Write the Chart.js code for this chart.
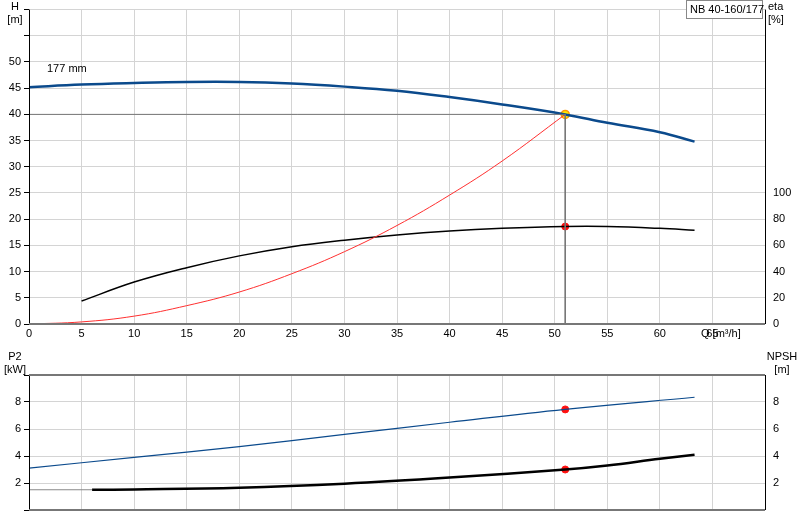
<!DOCTYPE html>
<html><head><meta charset="utf-8">
<script src="https://cdn.jsdelivr.net/npm/chart.js@4"></script>
<style>body{margin:0;background:#fff}#a,#b{position:absolute;left:0}#a{top:0}#b{top:340px}</style>
</head><body>
<div id="a" style="width:800px;height:340px"><canvas id="c1"></canvas></div>
<div id="b" style="width:800px;height:180px"><canvas id="c2"></canvas></div>
<script>
const qH=[0,5,10,15,20,25,30,35,40,45,51,55,60,63.3];
const headVals=[45.2,45.7,46.0,46.2,46.2,45.9,45.3,44.5,43.3,41.9,40,38.4,36.6,34.8];
const qEta=[5,10,15,20,25,30,35,40,45,51,55,60,63.3];
const etaVals=[17.5,32,43,52,59,64,68,71,73,74.4,74.4,73,71.5];
const qSys=[0,5,10,15,20,25,30,35,40,45,51];
const sysVals=[0,0.4,1.5,3.5,6.1,9.6,13.8,18.8,24.6,31.1,40];
const qP2=[0,10,20,30,40,51,63.3];
const p2Vals=[3.1,3.9,4.7,5.6,6.5,7.45,8.35];
const qNpsh=[6,10,20,30,40,51,55,60,63.3];
const npshVals=[1.5,1.52,1.65,1.95,2.4,3.0,3.3,3.8,4.1];
const duty={q:51,h:40,eta:74.4,p2:7.45,npsh:3.0};
const pairs=(xs,ys)=>xs.map((x,i)=>({x,y:ys[i]}));
const F='"Liberation Sans", Arial, sans-serif';
Chart.defaults.font.family=F;Chart.defaults.font.size=11;Chart.defaults.color='#000';
const grid={color:'#d4d4d4',drawTicks:false};
function fit(w){return s=>{s.width=w;};}
const texts={id:'t',afterDraw(c,a,o){const x=c.ctx;x.save();x.font='11px '+F;x.fillStyle='#000';
 for(const t of o.items){x.textAlign=t.al||'center';x.fillText(t.s,t.x,t.y);}
 if(o.box){x.strokeStyle='#888';x.lineWidth=1;x.fillStyle='#fff';x.fillRect(686.5,0.5,76,18);x.strokeRect(686.5,0.5,76,18);x.fillStyle='#000';x.textAlign='left';x.fillText('NB 40-160/177',690,13);}
 const ca=c.chartArea;x.strokeStyle='#000';x.lineWidth=1;x.beginPath();x.moveTo(ca.left+0.5,ca.top);x.lineTo(ca.left+0.5,ca.bottom);x.moveTo(ca.right+0.5,ca.top);x.lineTo(ca.right+0.5,ca.bottom);x.stroke();
 x.strokeStyle='#777';x.lineWidth=2;x.beginPath();x.moveTo(ca.left,ca.bottom);x.lineTo(ca.right,ca.bottom);if(o.topLine){x.moveTo(ca.left,ca.top);x.lineTo(ca.right,ca.top);}x.stroke();
 x.restore();}};
const ln=(data,color,w,extra={})=>Object.assign({type:'line',data,borderColor:color,borderWidth:w,pointRadius:0,tension:0.4,fill:false},extra);
new Chart(document.getElementById('c1'),{type:'line',data:{datasets:[
 ln([{x:0,y:duty.h},{x:duty.q,y:duty.h}],'#777',1,{tension:0}),
 ln([{x:duty.q,y:duty.h},{x:duty.q,y:0}],'#777',1,{tension:0}),
 ln(pairs(qSys,sysVals),'#ff3030',1),
 ln(pairs(qEta,etaVals),'#000',1.5,{yAxisID:'y2'}),
 ln(pairs(qH,headVals),'#0b4a8c',2.5),
 {type:'scatter',yAxisID:'y2',data:[{x:duty.q,y:duty.eta}],pointRadius:3.5,backgroundColor:'#ff1010',borderColor:'#ff1010'},
 {type:'scatter',data:[{x:duty.q,y:duty.h}],pointRadius:4,backgroundColor:'#ffee00',borderColor:'#ff9900',borderWidth:1.5}
]},options:{animation:false,responsive:true,maintainAspectRatio:false,layout:{padding:{top:-10}},
 plugins:{legend:{display:false},tooltip:{enabled:false},t:{box:true,items:[{s:'H',x:15,y:10},{s:'[m]',x:15,y:23},{s:'eta',x:768,y:10,al:'left'},{s:'[%]',x:768,y:23,al:'left'},{s:'177 mm',x:47,y:72,al:'left'},{s:'Q [m³/h]',x:701,y:337,al:'left'}]}},
 scales:{x:{type:'linear',min:0,max:70,grid:grid,border:{display:false},afterFit:s=>{s.height=16;},ticks:{stepSize:5,padding:3,maxRotation:0,callback:v=>v<=65?v:''}},
 y:{min:0,max:60,grid:{color:'#d4d4d4',tickLength:5,tickColor:'#000'},border:{display:false},afterFit:fit(29),ticks:{stepSize:5,padding:3,callback:v=>v<=50?v:''}},
 y2:{position:'right',min:0,max:240,grid:{display:false,tickLength:5,tickColor:'#000'},border:{display:false},afterFit:fit(35),ticks:{stepSize:20,padding:3,callback:v=>v<=100?v:''}}}},
 plugins:[texts]});
new Chart(document.getElementById('c2'),{type:'line',data:{datasets:[
 ln([{x:0,y:1.5},{x:6,y:1.5}],'#888',1,{tension:0}),
 ln(pairs(qP2,p2Vals),'#0b4a8c',1.2),
 ln(pairs(qNpsh,npshVals),'#000',2.5),
 {type:'scatter',data:[{x:duty.q,y:duty.p2},{x:duty.q,y:duty.npsh}],pointRadius:3.5,backgroundColor:'#ff1010',borderColor:'#ff1010'}
]},options:{animation:false,responsive:true,maintainAspectRatio:false,layout:{padding:{top:35}},
 plugins:{legend:{display:false},tooltip:{enabled:false},t:{topLine:true,items:[{s:'P2',x:15,y:20},{s:'[kW]',x:15,y:33},{s:'NPSH',x:782,y:20},{s:'[m]',x:782,y:33}]}},
 scales:{x:{type:'linear',min:0,max:70,grid:grid,border:{display:false},ticks:{display:false,stepSize:5},afterFit:s=>{s.height=10;}},
 y:{min:0,max:10,grid:{color:'#d4d4d4',tickLength:5,tickColor:'#000'},border:{display:false},afterFit:fit(29),ticks:{stepSize:2,padding:3,callback:v=>(v>0&&v<10)?v:''}},
 y2:{position:'right',min:0,max:10,grid:{display:false,tickLength:5,tickColor:'#000'},border:{display:false},afterFit:fit(35),ticks:{stepSize:2,padding:3,callback:v=>(v>0&&v<10)?v:''}}}},
 plugins:[texts]});
</script></body></html>
